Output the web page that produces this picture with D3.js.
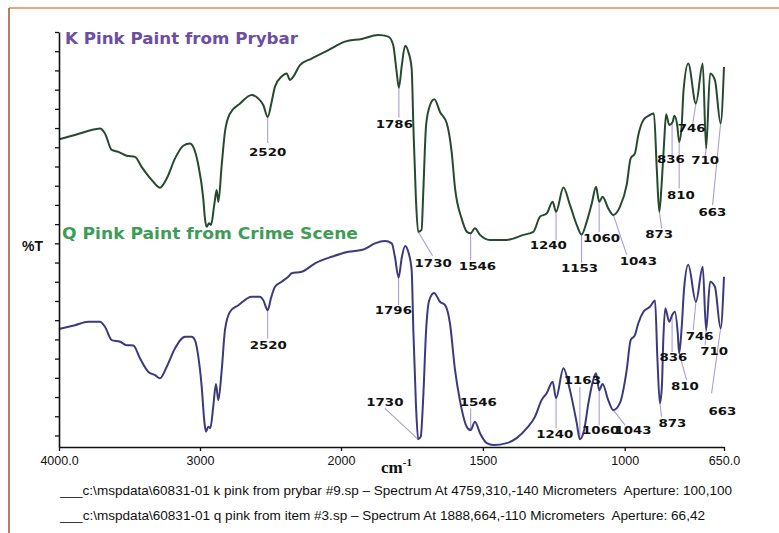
<!DOCTYPE html>
<html>
<head>
<meta charset="utf-8">
<title>IR Spectra - Pink Paint</title>
<script src="https://d3js.org/d3.v7.min.js"></script>
<style>
  body { margin: 0; background: #fff; }
  svg { display: block; }
</style>
</head>
<body>
<svg width="779" height="533"></svg>
<script>
    // K spectrum (pink paint from prybar): wavenumber (cm-1) and %T
    const kWave = [4000, 3887, 3745, 3709, 3674, 3626, 3579, 3520, 3461, 3414, 3343, 3284, 3236, 3177, 3119, 3071, 3048, 3012, 2977, 2965,
        2953, 2936, 2922, 2899, 2882, 2870, 2846, 2823, 2787, 2716, 2633, 2587, 2551, 2520, 2492, 2468, 2421, 2385, 2362, 2338,
        2291, 2208, 2090, 1986, 1927, 1869, 1833, 1816, 1804, 1796, 1786, 1774, 1763, 1751, 1745, 1736, 1728, 1716, 1710, 1700,
        1686, 1671, 1651, 1627, 1610, 1598, 1575, 1555, 1543, 1528, 1510, 1475, 1416, 1357, 1322, 1299, 1275, 1254, 1242, 1216,
        1193, 1169, 1152, 1134, 1116, 1101, 1090, 1078, 1058, 1040, 1017, 993, 979, 964, 952, 934, 911, 897, 887, 878,
        870, 861, 854, 843, 831, 825, 815, 808, 799, 793, 776, 749, 725, 713, 699, 682, 662, 650];
    const kT = [77.1, 78.2, 79.7, 79.9, 78.6, 74.3, 73.8, 72.8, 72.5, 69.9, 66.5, 64.5, 66.9, 72.1, 75.4, 76.0, 75.1, 70.4, 61.7, 56.5,
        54.3, 55.2, 54.8, 60.0, 63.9, 60.8, 70.4, 79.0, 83.8, 86.4, 88.6, 87.7, 86.0, 82.9, 86.8, 90.8, 93.4, 94.2, 92.5, 93.4,
        96.4, 98.1, 100.3, 102.5, 103.2, 104.2, 103.8, 101.6, 94.7, 90.5, 96.1, 101.4, 99.9, 95.5, 80.8, 61.7, 53.0, 53.5, 63.4, 80.8,
        86.0, 87.5, 84.2, 81.2, 73.8, 64.3, 56.5, 52.9, 52.6, 53.9, 52.2, 50.9, 50.9, 52.2, 53.0, 56.9, 57.8, 60.8, 58.2, 64.5,
        60.0, 54.8, 52.3, 55.6, 60.4, 64.7, 60.8, 62.1, 59.1, 57.4, 59.5, 65.2, 72.1, 73.4, 78.2, 82.1, 83.4, 83.8, 69.5, 58.2,
        65.2, 76.4, 83.6, 80.8, 81.6, 83.2, 80.8, 76.4, 80.8, 89.4, 96.8, 86.4, 96.8, 74.7, 94.2, 92.5, 81.2, 95.9];

    // Q spectrum (pink paint from crime scene)
    const qWave = [4000, 3887, 3792, 3709, 3674, 3626, 3567, 3520, 3473, 3426, 3367, 3319, 3284, 3236, 3177, 3106, 3059, 3036, 3012, 2988,
        2970, 2958, 2941, 2927, 2906, 2887, 2870, 2846, 2823, 2787, 2728, 2633, 2575, 2551, 2520, 2497, 2468, 2421, 2374, 2350,
        2279, 2184, 2066, 1974, 1921, 1880, 1845, 1821, 1810, 1797, 1786, 1774, 1763, 1751, 1745, 1736, 1728, 1719, 1710, 1700,
        1689, 1672, 1651, 1633, 1616, 1598, 1581, 1557, 1543, 1528, 1510, 1486, 1463, 1416, 1381, 1345, 1316, 1293, 1275, 1254,
        1242, 1216, 1193, 1169, 1158, 1143, 1128, 1111, 1101, 1090, 1078, 1058, 1040, 1017, 993, 979, 964, 952, 934, 911,
        893, 885, 876, 869, 864, 857, 843, 833, 823, 813, 808, 799, 791, 776, 749, 725, 713, 699, 682, 662, 650];
    const qT = [27.7, 28.7, 29.6, 29.6, 28.3, 24.8, 24.4, 23.5, 23.4, 20.1, 16.6, 15.7, 14.9, 17.9, 22.7, 25.7, 25.7, 24.8, 20.5, 12.7,
        4.0, 1.0, 2.3, 1.9, 7.5, 13.4, 9.2, 17.0, 27.4, 32.2, 33.9, 36.1, 36.1, 35.2, 32.6, 35.7, 38.7, 40.0, 41.3, 42.2,
        42.6, 44.8, 46.5, 47.8, 48.4, 50.0, 50.6, 50.0, 46.5, 41.1, 46.2, 49.3, 47.8, 43.1, 27.4, 8.4, -1.0, -0.3, 10.1, 27.4,
        35.2, 37.1, 34.8, 33.9, 29.2, 17.0, 9.2, 2.3, 1.4, 3.6, 0.6, -2.0, -2.5, -2.0, -0.7, 1.9, 4.9, 9.2, 11.0, 14.0,
        9.7, 17.5, 11.8, 3.2, -1.0, 1.4, 8.4, 14.4, 16.2, 11.8, 13.4, 9.2, 6.6, 8.4, 17.0, 24.8, 26.1, 29.2, 32.2, 33.5,
        35.1, 20.5, 8.4, 12.7, 24.8, 33.1, 29.6, 31.3, 32.2, 26.6, 21.4, 28.3, 37.9, 44.4, 34.8, 43.9, 27.4, 40.0, 38.7, 27.9, 41.3];

    // peak annotations: label text and wavenumber where the leader touches the curve
    const kPeakLabels = ["2520", "1786", "1730", "1546", "1240", "1153", "1060", "1043", "873", "836", "810", "746", "710", "663"];
    const kPeakWaves = [2520, 1796, 1728, 1543, 1242, 1152, 1090, 1040, 878, 833, 808, 749, 713, 662];
    const qPeakLabels = ["2520", "1796", "1730", "1546", "1240", "1163", "1060", "1043", "873", "836", "810", "746", "710", "663"];
    const qPeakWaves = [2520, 1797, 1728, 1543, 1242, 1158, 1090, 1040, 876, 833, 808, 749, 713, 662];

    const xTicks = [4000, 3000, 2000, 1500, 1000, 650];
    const titleK = "K Pink Paint from Prybar";
    const titleQ = "Q Pink Paint from Crime Scene";
    const footer = [
        "___c:\\mspdata\\60831-01 k pink from prybar #9.sp \u2013 Spectrum At 4759,310,-140 Micrometers  Aperture: 100,100",
        "___c:\\mspdata\\60831-01 q pink from item #3.sp \u2013 Spectrum At 1888,664,-110 Micrometers  Aperture: 66,42"
    ];

    // label layout, pixels relative to the leader start: [leaderDx, leaderDy, textDx, textDy]
    const kLabelLayout = [
        [0, 26, 0, 39], [0, 30, -4.5, 40.6], [14.4, 24, 15, 35], [0, 26.7, 6.8, 36.7], [0, 28.3, -7.7, 37.3],
        [0, 28.7, -2, 37.4], [0, 30.3, 2.4, 40.6], [13.4, 40, 25, 50], [2.4, 16.6, -0.1, 26.6], [0, 33, -1.2, 40.7],
        [0, 46.6, 1.7, 57.3], [-3.3, 21, -4.3, 29], [-1, 8.4, -1, 16], [-8, 81.7, -8.2, 92.7]
    ];
    const qLabelLayout = [
        [0, 28.3, 0.6, 38.3], [0, 27.5, -5.2, 36.5], [-33.3, -31, -33.3, -33.3], [0, -21.7, 7.6, -24], [0, 30, -1.3, 40],
        [0, -52.3, 2.5, -55.3], [0, 35, 1.5, 44.3], [11.7, 15, 19.7, 24], [1.7, 13.4, 12.5, 23.4], [0, 36.7, 1.3, 45.7],
        [7.4, 26.7, 5.7, 36.7], [-2.7, 28.3, 3.7, 38.3], [-1, 15, 8, 25], [-9, 65, 1.8, 86.7]
    ];

    const width = 779;
    const height = 533;
    const svg = d3.select("svg");

    // page frame
    svg.append("line").attr("x1", 9).attr("x2", width).attr("y1", 8).attr("y2", 8)
        .attr("stroke", "#dc8a58").attr("stroke-width", 1.5);
    svg.append("line").attr("x1", 9).attr("x2", 9).attr("y1", 8).attr("y2", height)
        .attr("stroke", "#a2532a").attr("stroke-width", 1.5);

    // below 2000 cm-1 the axis is expanded 2x
    const x = d3.scaleLinear().domain([4000, 2000, 650]).range([59, 341, 724]);
    const y = d3.scaleLinear().domain([-3, 105]).range([447, 32]);

    const tAt = (waves, ts, wn) => {
        for (let i = 0; i < waves.length - 1; i++) {
            if (waves[i] >= wn && waves[i + 1] <= wn) {
                const f = (waves[i] - wn) / (waves[i] - waves[i + 1]);
                return ts[i] + f * (ts[i + 1] - ts[i]);
            }
        }
        return ts[ts.length - 1];
    };

    const line = d3.line().x(d => x(d[0])).y(d => y(d[1])).curve(d3.curveMonotoneX);

    function drawLeaders(waves, ts, peakWaves, layout) {
        peakWaves.forEach((wn, i) => {
            const sx = x(wn), sy = y(tAt(waves, ts, wn));
            const o = layout[i];
            svg.append("line")
                .attr("x1", sx).attr("y1", sy)
                .attr("x2", sx + o[0]).attr("y2", sy + o[1])
                .attr("stroke", "#a99ed6").attr("stroke-width", 1.1);
        });
    }

    function drawLabels(waves, ts, labels, peakWaves, layout) {
        labels.forEach((lab, i) => {
            const sx = x(peakWaves[i]), sy = y(tAt(waves, ts, peakWaves[i]));
            const o = layout[i];
            svg.append("text")
                .attr("x", sx + o[2]).attr("y", sy + o[3])
                .attr("text-anchor", "middle")
                .attr("textLength", lab.length * 9.3)
                .attr("lengthAdjust", "spacingAndGlyphs")
                .style("font-family", "'DejaVu Sans', sans-serif")
                .style("font-weight", "bold")
                .style("font-size", "10px")
                .attr("fill", "#111")
                .text(lab);
        });
    }

    drawLeaders(kWave, kT, kPeakWaves, kLabelLayout);
    drawLeaders(qWave, qT, qPeakWaves, qLabelLayout);

    svg.append("path")
        .attr("d", line(kWave.map((w, i) => [w, kT[i]])))
        .attr("fill", "none").attr("stroke", "#264a30").attr("stroke-width", 2)
        .attr("stroke-linejoin", "round");
    svg.append("path")
        .attr("d", line(qWave.map((w, i) => [w, qT[i]])))
        .attr("fill", "none").attr("stroke", "#3c397d").attr("stroke-width", 2)
        .attr("stroke-linejoin", "round");

    drawLabels(kWave, kT, kPeakLabels, kPeakWaves, kLabelLayout);
    drawLabels(qWave, qT, qPeakLabels, qPeakWaves, qLabelLayout);

    // axes
    const yAxis = svg.append("g")
        .attr("transform", "translate(59,0)")
        .call(d3.axisLeft(y).tickValues(d3.range(0, 106, 5)).tickSize(4).tickSizeOuter(0).tickFormat(""));
    const xAxis = svg.append("g")
        .attr("transform", "translate(0,447)")
        .call(d3.axisBottom(x).tickValues(xTicks).tickSize(4).tickSizeOuter(0).tickPadding(5)
            .tickFormat(d => (d === 4000 || d === 650) ? d.toFixed(1) : String(d)));
    [yAxis, xAxis].forEach(a => {
        a.select(".domain").attr("stroke", "#111").attr("stroke-width", 1.6);
        a.selectAll(".tick line").attr("stroke", "#111").attr("stroke-width", 1.3);
    });
    xAxis.selectAll(".tick text")
        .style("font-family", "'Liberation Sans', Arial, sans-serif")
        .style("font-size", "12.5px")
        .attr("fill", "#111");

    // axis titles
    const cm = svg.append("text")
        .attr("x", 381).attr("y", 473)
        .style("font-family", "'Liberation Serif', 'DejaVu Serif', serif")
        .style("font-weight", "bold")
        .style("font-size", "17px")
        .attr("fill", "#111")
        .text("cm");
    cm.append("tspan").attr("dy", -7).style("font-size", "11px").text("-1");

    svg.append("text")
        .attr("x", 22).attr("y", 250.5)
        .style("font-family", "'Liberation Sans', Arial, sans-serif")
        .style("font-weight", "bold")
        .style("font-size", "14px")
        .attr("fill", "#111")
        .text("%T");

    // spectrum titles
    svg.append("text")
        .attr("x", 65).attr("y", 44)
        .attr("textLength", 233).attr("lengthAdjust", "spacingAndGlyphs")
        .style("font-family", "'DejaVu Sans', sans-serif")
        .style("font-weight", "bold")
        .style("font-size", "15px")
        .attr("fill", "#6c4ea2")
        .text(titleK);
    svg.append("text")
        .attr("x", 62).attr("y", 238.5)
        .attr("textLength", 296).attr("lengthAdjust", "spacingAndGlyphs")
        .style("font-family", "'DejaVu Sans', sans-serif")
        .style("font-weight", "bold")
        .style("font-size", "15px")
        .attr("fill", "#3f9c57")
        .text(titleQ);

    // file info footer
    const footerLen = [672, 645];
    footer.forEach((t, i) => {
        svg.append("text")
            .attr("x", 60).attr("y", 495 + i * 25)
            .attr("textLength", footerLen[i]).attr("lengthAdjust", "spacingAndGlyphs")
            .style("font-family", "'Liberation Sans Narrow', 'Liberation Sans', Arial, sans-serif")
            .style("font-size", "13px")
            .style("white-space", "pre")
            .attr("fill", "#111")
            .text(t);
    });
</script>
</body>
</html>
